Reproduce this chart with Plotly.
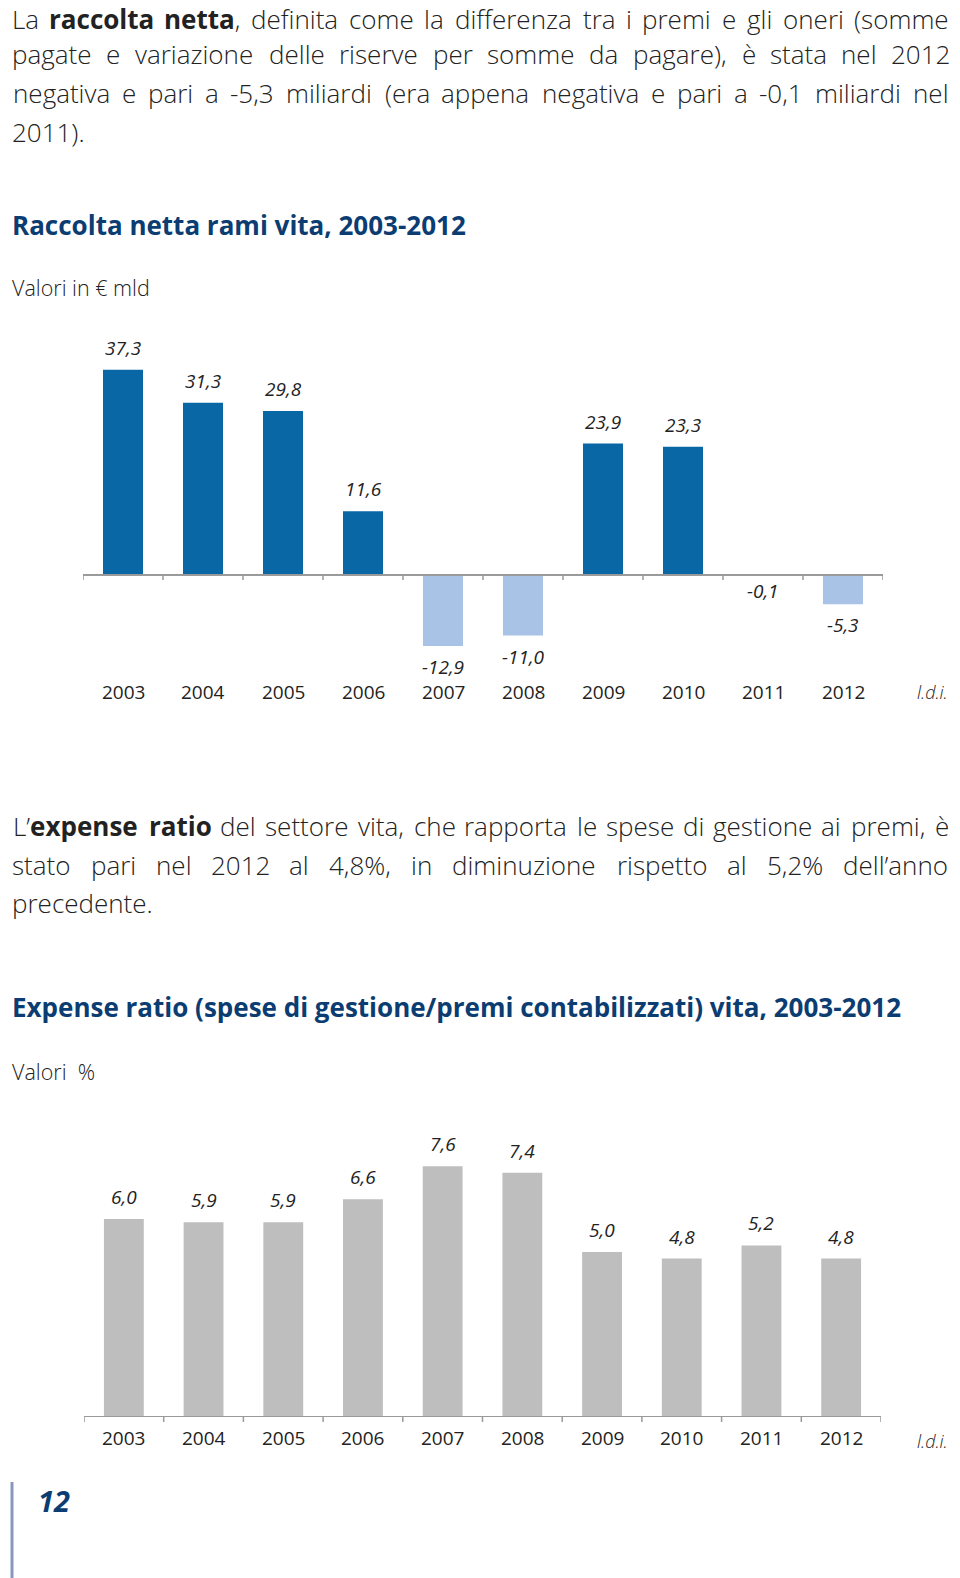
import plotly.graph_objects as go

W, H = 960, 1578

years = ["2003", "2004", "2005", "2006", "2007", "2008", "2009", "2010", "2011", "2012"]
raccolta = [37.3, 31.3, 29.8, 11.6, -12.9, -11.0, 23.9, 23.3, -0.1, -5.3]
raccolta_labels = ["37,3", "31,3", "29,8", "11,6", "-12,9", "-11,0", "23,9", "23,3", "-0,1", "-5,3"]
expense = [6.0, 5.9, 5.9, 6.6, 7.6, 7.4, 5.0, 4.8, 5.2, 4.8]
expense_labels = ["6,0", "5,9", "5,9", "6,6", "7,6", "7,4", "5,0", "4,8", "5,2", "4,8"]

para1 = [
    "La <b>raccolta netta</b>, definita come la differenza tra i premi e gli oneri (somme",
    "pagate e variazione delle riserve per somme da pagare), è stata nel 2012",
    "negativa e pari a -5,3 miliardi (era appena negativa e pari a -0,1 miliardi nel",
    "2011).",
]
para2 = [
    "L’<b>expense ratio</b> del settore vita, che rapporta le spese di gestione ai premi, è",
    "stato pari nel 2012 al 4,8%, in diminuzione rispetto al 5,2% dell’anno",
    "precedente.",
]
title1 = "Raccolta netta rami vita, 2003-2012"
sub1 = "Valori in € mld"
title2 = "Expense ratio (spese di gestione/premi contabilizzati) vita, 2003-2012"
sub2 = "Valori  %"
source = "l.d.i."
page_no = "12"

BLUE = "#0a67a6"
LIGHT = "#a9c3e6"
GRAY = "#bebebe"
NAVY = "#0b3d72"
TXT = "#222222"
FONT = "Open Sans"
BODY_SIZE = 26

# approximate Open Sans advance widths (units per 2048 em) for justification
REG = {' ': 532, 'a': 1139, 'b': 1255, 'c': 975, 'd': 1255, 'e': 1149, 'f': 694, 'g': 1122,
       'h': 1257, 'i': 518, 'l': 518, 'm': 1905, 'n': 1257, 'o': 1237, 'p': 1255, 'r': 836,
       's': 977, 't': 723, 'u': 1257, 'v': 1026, 'z': 979, 'x': 1073, 'è': 1149, ',': 502,
       '.': 545, '-': 659, '(': 604, ')': 604, '%': 1702, '’': 358, 'L': 1092}
for d in "0123456789":
    REG[d] = 1171
BOLD_SPECIAL = {'i': 620, 'l': 620, 't': 852, 'r': 934, 'x': 1251}


def text_width(s, size):
    bold = False
    w = 0.0
    i = 0
    while i < len(s):
        if s.startswith("<b>", i):
            bold = True
            i += 3
            continue
        if s.startswith("</b>", i):
            bold = False
            i += 4
            continue
        ch = s[i]
        base = REG.get(ch, 1150)
        if bold:
            w += BOLD_SPECIAL.get(ch, base * 1.07)
        else:
            w += base * 0.965
        i += 1
    return w / 2048 * size


def split_words(line):
    words = line.split(" ")
    out = []
    bold = False
    for wd in words:
        txt = ("<b>" if bold and not wd.startswith("<b>") else "") + wd
        opens = wd.count("<b>")
        closes = wd.count("</b>")
        if opens > closes:
            bold = True
        elif closes > opens:
            bold = False
        if bold and not txt.endswith("</b>"):
            txt = txt + "</b>"
        out.append(txt)
    return out


def py(p):
    return 1 - p / H


def px(p):
    return p / W


fig = go.Figure()

pos = list(range(len(years)))
fig.add_trace(go.Bar(
    x=pos, y=raccolta, width=0.5,
    marker=dict(color=[BLUE if v > 0 else LIGHT for v in raccolta], line=dict(width=0)),
    xaxis="x", yaxis="y", hoverinfo="skip", showlegend=False,
))
fig.add_trace(go.Bar(
    x=pos, y=expense, width=0.5,
    marker=dict(color=GRAY, line=dict(width=0)),
    xaxis="x2", yaxis="y2", hoverinfo="skip", showlegend=False,
))

s1 = 5.5
top1, bot1, zero1 = 340, 700, 575
s2 = 33.0
top2, zero2 = 1110, 1417
fig.update_layout(
    xaxis=dict(domain=[px(83), px(883)], range=[-0.5, 9.5], visible=False, fixedrange=True),
    yaxis=dict(domain=[py(bot1), py(top1)],
               range=[-(bot1 - zero1) / s1, (zero1 - top1) / s1], visible=False),
    xaxis2=dict(domain=[px(84), px(881)], range=[-0.5, 9.5], visible=False, anchor="y2"),
    yaxis2=dict(domain=[py(zero2), py(top2)], range=[0, (zero2 - top2) / s2],
                visible=False, anchor="x2"),
)

AX = "#9a9a9a"
shapes = []
for xr, yr, zp in (("x", "y", zero1), ("x2", "y2", zero2)):
    shapes.append(dict(type="line", xref=xr, yref=yr, x0=-0.5, x1=9.5, y0=0, y1=0,
                       line=dict(color=AX, width=2), layer="above"))
    for k in range(len(years) + 1):
        shapes.append(dict(type="line", xref=xr, yref="paper", x0=k - 0.5, x1=k - 0.5,
                           y0=py(zp), y1=py(zp + 5), line=dict(color=AX, width=1.5)))
shapes.append(dict(type="line", xref="paper", yref="paper", x0=px(12), x1=px(12),
                   y0=py(1482), y1=0, line=dict(color="#8797bd", width=3)))

ann = []
body_font = dict(family=FONT, size=BODY_SIZE, color=TXT, weight=300)


def add_justified(line, ycen, left=12, right=949):
    words = split_words(line)
    widths = [text_width(w, BODY_SIZE) for w in words]
    gap = (right - left - sum(widths)) / (len(words) - 1)
    x = left
    for w, wd in zip(words, widths):
        ann.append(dict(x=px(x + wd / 2), y=py(ycen), text=w, xref="paper", yref="paper",
                        xanchor="center", yanchor="middle", showarrow=False, font=body_font))
        x += wd + gap


def add_left(line, ycen):
    ann.append(dict(x=px(10), y=py(ycen), text=line, xref="paper", yref="paper",
                    xanchor="left", yanchor="middle", showarrow=False, font=body_font))


para1_y = [19, 54.5, 93, 131.5]
for i, line in enumerate(para1):
    if i < len(para1) - 1:
        add_justified(line, para1_y[i])
    else:
        add_left(line, para1_y[i])
for i, line in enumerate(para2):
    yc = 826 + i * 38.5
    if i < len(para2) - 1:
        add_justified(line, yc)
    else:
        add_left(line, yc)

for txt, yy, size, col, bold in ((title1, 225, 26, NAVY, True), (sub1, 287, 21.5, TXT, False),
                                 (title2, 1007, 26, NAVY, True), (sub2, 1071, 21.5, TXT, False)):
    ann.append(dict(x=px(10), y=py(yy), text=("<b>%s</b>" % txt) if bold else txt,
                    xref="paper", yref="paper", xanchor="left", yanchor="middle",
                    showarrow=False,
                    font=dict(family=FONT, size=size, color=col, weight=700 if bold else 300)))

for i, (v, lab) in enumerate(zip(raccolta, raccolta_labels)):
    ann.append(dict(x=i, y=v, xref="x", yref="y", text="<i>" + lab + "</i>", showarrow=False,
                    xanchor="center", yshift=22 if v > 0 else (-15 if v > -1 else -21),
                    font=dict(family=FONT, size=19, color=TXT)))
for i, (v, lab) in enumerate(zip(expense, expense_labels)):
    ann.append(dict(x=i, y=v, xref="x2", yref="y2", text="<i>" + lab + "</i>", showarrow=False,
                    xanchor="center", yshift=22, font=dict(family=FONT, size=19, color=TXT)))
for i, yv in enumerate(years):
    ann.append(dict(x=i, y=py(692), xref="x", yref="paper", text=yv, showarrow=False,
                    xanchor="center", yanchor="middle", font=dict(family=FONT, size=19, color=TXT)))
    ann.append(dict(x=i, y=py(1438), xref="x2", yref="paper", text=yv, showarrow=False,
                    xanchor="center", yanchor="middle", font=dict(family=FONT, size=19, color=TXT)))
for yy in (692, 1441):
    ann.append(dict(x=px(932), y=py(yy), xref="paper", yref="paper", text="<i>" + source + "</i>",
                    showarrow=False, xanchor="center", yanchor="middle",
                    font=dict(family=FONT, size=18, color=TXT, weight=300)))

ann.append(dict(x=px(36), y=py(1500), xref="paper", yref="paper", xanchor="left",
                yanchor="middle", text="<b><i>" + page_no + "</i></b>", showarrow=False,
                font=dict(family=FONT, size=29, color=NAVY)))

fig.update_layout(
    annotations=ann, shapes=shapes,
    width=W, height=H,
    margin=dict(l=0, r=0, t=0, b=0),
    paper_bgcolor="white", plot_bgcolor="rgba(0,0,0,0)",
    showlegend=False,
)

fig.write_html("out.html", config={"displayModeBar": False, "staticPlot": True},
               post_script="document.body.style.margin='0';document.body.style.overflow='hidden';")
